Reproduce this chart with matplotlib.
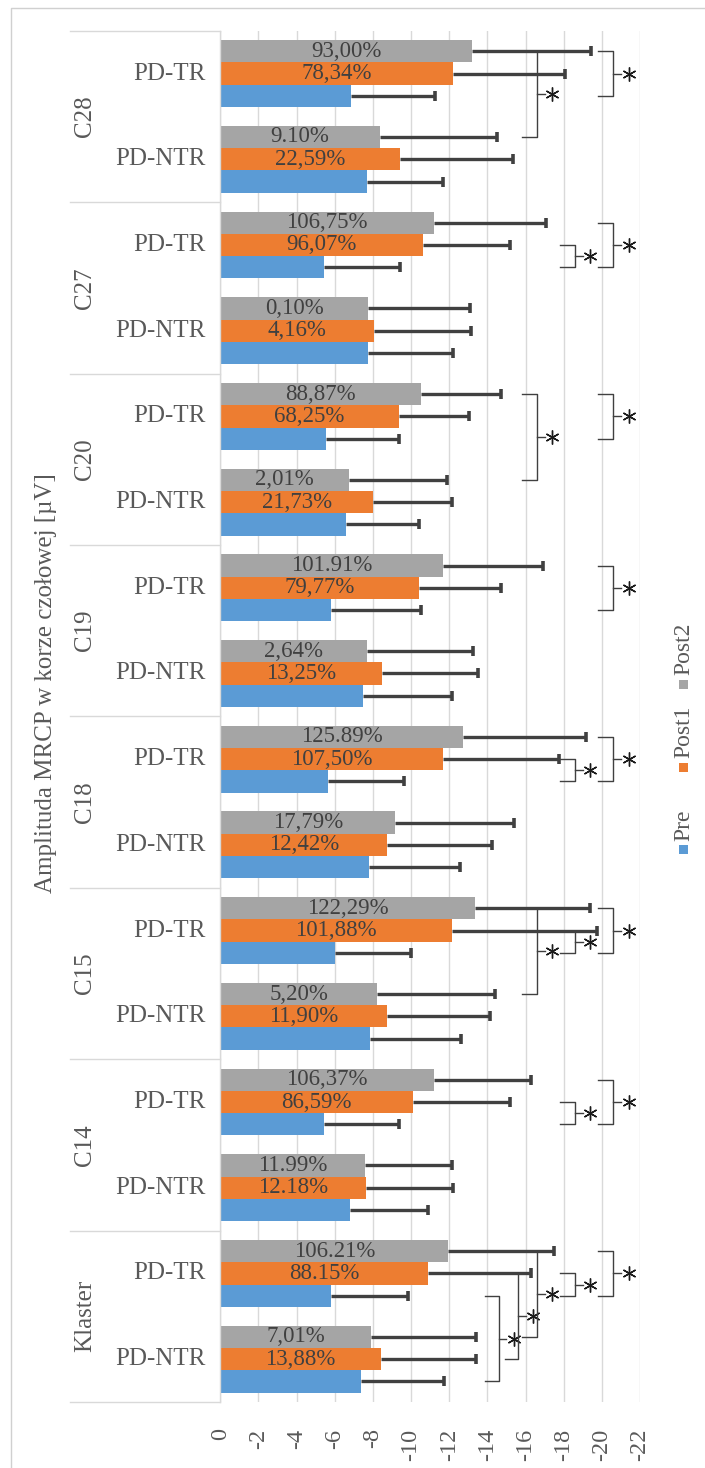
import matplotlib
matplotlib.use("Agg")
import matplotlib.pyplot as plt
from matplotlib.patches import Rectangle
from matplotlib.lines import Line2D

plt.rcParams['font.family'] = ['Liberation Serif', 'DejaVu Serif']

# ---- data (MRCP amplitude, µV) ; order: bottom -> top ----
groups = ['Klaster', 'C14', 'C15', 'C18', 'C19', 'C20', 'C27', 'C28']
subgroups = ['PD-NTR', 'PD-TR']

pre = [-7.40, -5.80, -6.79, -5.42, -7.83, -6.01, -7.78, -5.63,
       -7.50, -5.78, -6.60, -5.56, -7.74, -5.42, -7.67, -6.84]
post1 = [-8.43, -10.91, -7.62, -10.11, -8.76, -12.13, -8.75, -11.68,
         -8.49, -10.39, -8.03, -9.35, -8.06, -10.63, -9.40, -12.20]
post2 = [-7.92, -11.96, -7.60, -11.19, -8.24, -13.36, -9.16, -12.72,
         -7.70, -11.67, -6.73, -10.50, -7.75, -11.21, -8.37, -13.20]

sd_pre = [4.30, 4.05, 4.11, 3.94, 4.79, 3.97, 4.77, 3.99,
          4.65, 4.76, 3.82, 3.80, 4.46, 4.01, 4.00, 4.39]
sd_post1 = [4.97, 5.39, 4.60, 5.06, 5.39, 7.63, 5.47, 6.08,
            5.02, 4.30, 4.12, 3.69, 5.08, 4.54, 5.93, 5.87]
sd_post2 = [5.48, 5.54, 4.55, 5.08, 6.15, 6.03, 6.24, 6.45,
            5.55, 5.26, 5.13, 4.19, 5.34, 5.84, 6.13, 6.21]

lab_post1 = ['13,88%', '88.15%', '12.18%', '86,59%', '11,90%', '101,88%',
             '12,42%', '107,50%', '13,25%', '79,77%', '21,73%', '68,25%',
             '4,16%', '96,07%', '22,59%', '78,34%']
lab_post2 = ['7,01%', '106.21%', '11.99%', '106,37%', '5,20%', '122,29%',
             '17,79%', '125.89%', '2,64%', '101.91%', '2,01%', '88,87%',
             '0,10%', '106,75%', '9.10%', '93,00%']

series_names = ['Pre', 'Post1', 'Post2']
tick_values = [0, -2, -4, -6, -8, -10, -12, -14, -16, -18, -20, -22]

# significance brackets: (cat_a, series_a, cat_b, series_b, arm, spine, star)
brackets = [
    (1, 0, 0, 0, 13.9, 14.6, 15.4),
    (1, 1, 0, 1, 14.9, 15.6, 16.4),
    (1, 2, 0, 2, 15.8, 16.6, 17.4),
    (1, 1, 1, 0, 17.8, 18.6, 19.4),
    (1, 2, 1, 0, 19.8, 20.6, 21.4),
    (3, 1, 3, 0, 17.8, 18.6, 19.4),
    (3, 2, 3, 0, 19.8, 20.6, 21.4),
    (5, 2, 4, 2, 15.8, 16.6, 17.4),
    (5, 1, 5, 0, 17.8, 18.6, 19.4),
    (5, 2, 5, 0, 19.8, 20.6, 21.4),
    (7, 1, 7, 0, 17.8, 18.6, 19.4),
    (7, 2, 7, 0, 19.8, 20.6, 21.4),
    (9, 2, 9, 0, 19.8, 20.6, 21.4),
    (11, 2, 10, 2, 15.8, 16.6, 17.4),
    (11, 2, 11, 0, 19.8, 20.6, 21.4),
    (13, 1, 13, 0, 17.8, 18.6, 19.4),
    (13, 2, 13, 0, 19.8, 20.6, 21.4),
    (15, 2, 14, 2, 15.8, 16.6, 17.4),
    (15, 2, 15, 0, 19.8, 20.6, 21.4),
]

# ---- styling ----
colors = ['#5B9BD5', '#ED7D31', '#A5A5A5']
txt_col = '#595959'
err_col = '#404040'
grid_col = '#d9d9d9'
bar_h = 0.26
offsets = [-bar_h, 0.0, bar_h]

W, H = 705, 1468
fig = plt.figure(figsize=(W / 100, H / 100), dpi=100)
fig.patch.set_facecolor('white')

ax_l, ax_r, ax_t, ax_b = 220.3, 640.0, 30.7, 1402.0
ax = fig.add_axes([ax_l / W, 1 - ax_b / H, (ax_r - ax_l) / W, (ax_b - ax_t) / H])
ax.set_xlim(0, -22)
ax.set_ylim(-0.5, 15.5)

n = len(pre)
ypos = list(range(n))
values = [pre, post1, post2]
sds = [sd_pre, sd_post1, sd_post2]

for s in range(3):
    ys = [y + offsets[s] for y in ypos]
    ax.barh(ys, values[s], height=bar_h, color=colors[s], zorder=2,
            label=series_names[s])
for s in range(3):
    ys = [y + offsets[s] for y in ypos]
    ends = [v - d for v, d in zip(values[s], sds[s])]
    ax.hlines(ys, values[s], ends, color=err_col, lw=2.4, zorder=3)
    ax.plot(ends, ys, ls='none', marker='|', ms=7, mew=2.6, color=err_col,
            zorder=3)

# percentage labels inside Post1 / Post2 bars
for i in range(n):
    ax.text(post1[i] / 2, i + offsets[1], lab_post1[i], ha='center',
            va='center', fontsize=16.5, color='#404040', zorder=4)
    ax.text(post2[i] / 2, i + offsets[2], lab_post2[i], ha='center',
            va='center', fontsize=16.5, color='#404040', zorder=4)

# significance brackets
for ca, sa, cb, sb, arm, spine, star in brackets:
    y1 = ca + offsets[sa]
    y2 = cb + offsets[sb]
    ax.plot([-arm, -spine, -spine, -arm], [y1, y1, y2, y2],
            color='#404040', lw=1.0, clip_on=False, zorder=3)
    ym = (y1 + y2) / 2
    ax.plot([-spine, -(star - 0.4)], [ym, ym], color='#404040', lw=1.0,
            clip_on=False, zorder=3)
    ax.plot([-star], [ym], ls='none', marker=(6, 2, 0), ms=10, mew=1.0,
            color='#1a1a1a', clip_on=False, zorder=3)

# value axis
ax.set_xticks(tick_values)
ax.set_xticklabels([str(v) for v in tick_values], rotation=90, fontsize=17.5,
                   color=txt_col)
ax.tick_params(axis='x', length=0, pad=19)
ax.set_yticks([])
ax.grid(axis='x', color=grid_col, lw=1.0)
ax.set_axisbelow(True)
for side in ['top', 'right', 'bottom']:
    ax.spines[side].set_visible(False)
ax.spines['left'].set_color(grid_col)
ax.spines['left'].set_linewidth(1.0)

# two-level category axis
ytr = ax.get_yaxis_transform()
axw = ax_r - ax_l
def xf(px):
    return (px - ax_l) / axw

for b in range(len(groups) + 1):
    yb = 2 * b - 0.5
    ax.add_line(Line2D([xf(70), 0], [yb, yb], transform=ytr, color=grid_col,
                       lw=1.0, clip_on=False))
for i in range(n):
    ax.text(xf(206), i, subgroups[i % 2], transform=ytr, ha='right',
            va='center', fontsize=18, color=txt_col)
for g, name in enumerate(groups):
    ax.text(xf(85), 2 * g + 0.5, name, transform=ytr, ha='center',
            va='center', rotation=90, fontsize=18, color=txt_col)

# axis title
fig.text(46 / W, 1 - 683 / H, 'Amplituda MRCP w korze czołowej [µV]',
         rotation=90, ha='center', va='center', fontsize=18, color=txt_col)

# legend (vertical, reading upwards)
leg_marker_y = [850, 767, 684]
for s in range(3):
    my = leg_marker_y[s]
    fig.patches.append(Rectangle(((683 - 4.5) / W, 1 - (my + 4.5) / H),
                                 9 / W, 9 / H, transform=fig.transFigure,
                                 facecolor=colors[s], edgecolor='none'))
    fig.text(684 / W, 1 - (my - 9) / H, series_names[s], rotation=90,
             ha='center', va='bottom', fontsize=17, color=txt_col)

# chart frame (left and top edges)
fig.add_artist(Line2D([10.5 / W, 10.5 / W, 1.0], [0.0, 1 - 7.5 / H, 1 - 7.5 / H],
                      transform=fig.transFigure, color='#d0d0d0', lw=1.0))

fig.savefig('out.png', dpi=100, facecolor='white')
